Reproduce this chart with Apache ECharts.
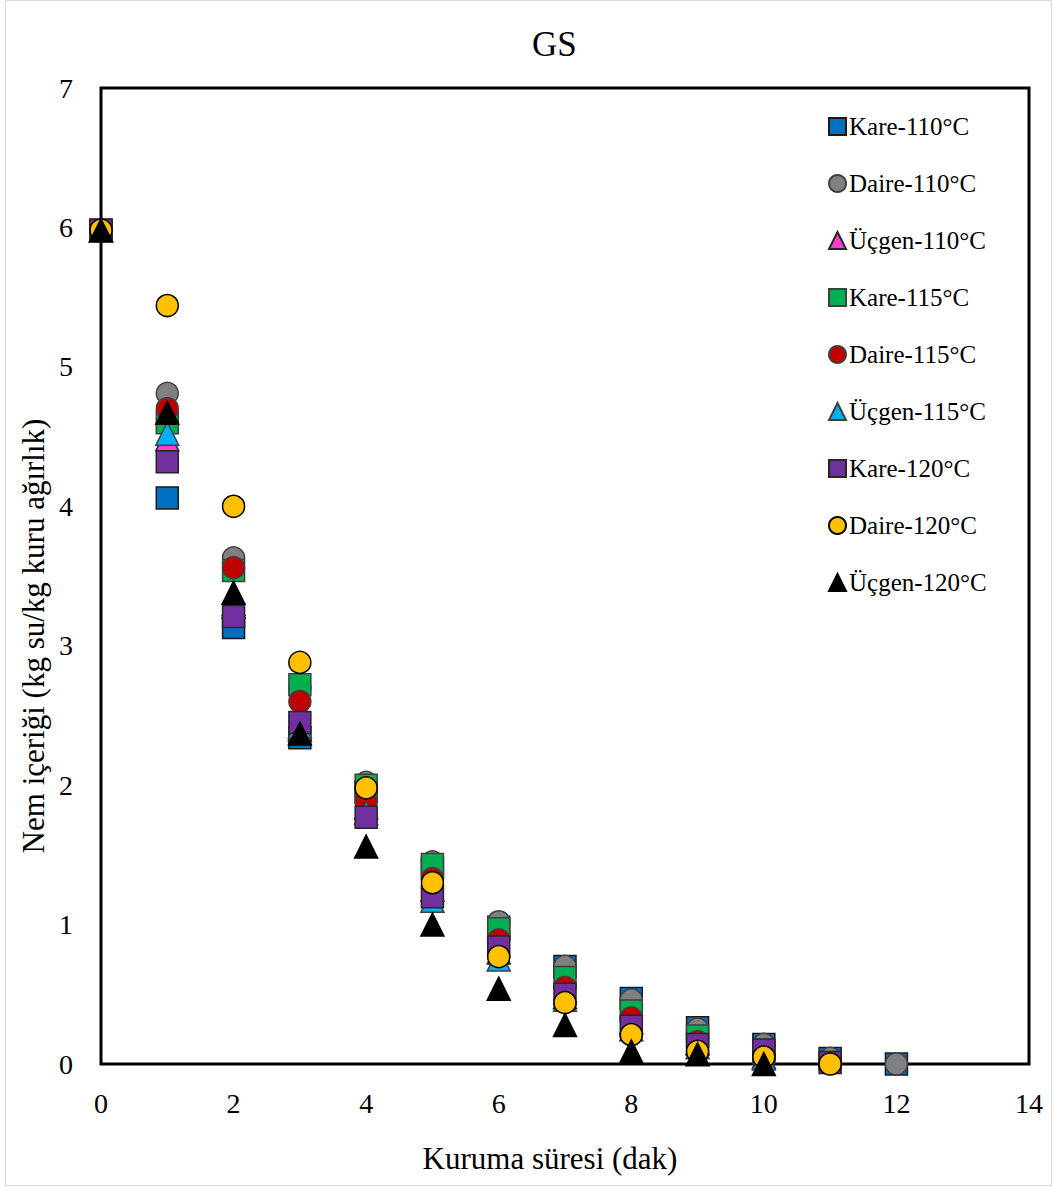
<!DOCTYPE html>
<html>
<head>
<meta charset="utf-8">
<title>GS</title>
<script src="https://cdn.jsdelivr.net/npm/echarts@6/dist/echarts.min.js"></script>
<style>
  html, body { margin: 0; padding: 0; background: #ffffff; }
  #chart { width: 1053px; height: 1187px; }
</style>
</head>
<body>
<div id="chart"></div>
<script>
// Drying time (minutes)
const times = [0, 1, 2, 3, 4, 5, 6, 7, 8, 9, 10, 11, 12];

// Moisture content (kg water / kg dry matter) per shape and temperature
const kare110   = [5.98, 4.06, 3.13, 2.34, 1.95, 1.40, 0.98, 0.70, 0.47, 0.26, 0.14, 0.04, 0.00];
const daire110  = [5.98, 4.81, 3.63, 2.70, 2.02, 1.45, 1.02, 0.70, 0.46, 0.25, 0.14, 0.04, 0.00];
const ucgen110  = [5.98, 4.48, 3.28, 2.40, 1.84, 1.25, 0.80, 0.48, 0.30, 0.15, 0.05];
const kare115   = [5.98, 4.60, 3.54, 2.72, 2.00, 1.43, 0.97, 0.62, 0.38, 0.20, 0.08];
const daire115  = [5.98, 4.70, 3.56, 2.60, 1.88, 1.33, 0.89, 0.55, 0.33, 0.16, 0.06];
const ucgen115  = [5.98, 4.52, 3.30, 2.42, 1.80, 1.17, 0.75, 0.46, 0.25, 0.12, 0.04];
const kare120   = [5.98, 4.32, 3.21, 2.45, 1.77, 1.20, 0.84, 0.50, 0.27, 0.14, 0.10, 0.01];
const daire120  = [5.98, 5.44, 4.00, 2.88, 1.98, 1.30, 0.77, 0.44, 0.21, 0.09, 0.05, 0.00];
const ucgen120  = [5.98, 4.67, 3.38, 2.37, 1.56, 1.00, 0.54, 0.28, 0.09, 0.07, 0.00];

const seriesNames = [
  'Kare-110°C', 'Daire-110°C', 'Üçgen-110°C',
  'Kare-115°C', 'Daire-115°C', 'Üçgen-115°C',
  'Kare-120°C', 'Daire-120°C', 'Üçgen-120°C'
];
const seriesValues = [kare110, daire110, ucgen110, kare115, daire115, ucgen115, kare120, daire120, ucgen120];

// marker look per series
const looks = [
  { symbol: 'rect',     size: 22, color: '#0070C0', border: '#1a1a1a' },
  { symbol: 'circle',   size: 22, color: '#808080', border: '#404040' },
  { symbol: 'triangle', size: 23, color: '#FF3FCB', border: '#262626' },
  { symbol: 'rect',     size: 22, color: '#00B050', border: '#404040' },
  { symbol: 'circle',   size: 22, color: '#C00000', border: '#404040' },
  { symbol: 'triangle', size: 23, color: '#00B0F0', border: '#404040' },
  { symbol: 'rect',     size: 22, color: '#7030A0', border: '#262626' },
  { symbol: 'circle',   size: 22, color: '#FFC000', border: '#000000' },
  { symbol: 'triangle', size: 23, color: '#000000', border: '#000000' }
];

const FONT = 'Liberation Serif';

const series = seriesNames.map((name, i) => ({
  name: name,
  type: 'scatter',
  symbol: looks[i].symbol,
  symbolSize: looks[i].size,
  itemStyle: { color: looks[i].color, borderColor: looks[i].border, borderWidth: 1.5, opacity: 1 },
  emphasis: { disabled: true },
  data: seriesValues[i].map((v, k) => [times[k], v])
}));

const chart = echarts.init(document.getElementById('chart'), null, { renderer: 'svg' });
chart.setOption({
  animation: false,
  backgroundColor: '#ffffff',
  title: {
    text: 'GS',
    left: 527,
    top: 22,
    textStyle: { fontFamily: FONT, fontSize: 35, fontWeight: 'normal', color: '#000' }
  },
  legend: {
    orient: 'vertical',
    left: 823,
    top: 109,
    itemWidth: 17,
    itemHeight: 17,
    itemGap: 32,
    textStyle: { fontFamily: FONT, fontSize: 25, color: '#000', lineHeight: 25, padding: [0, 0, 0, -2] },
    data: seriesNames.map((n, i) => ({ name: n, icon: looks[i].symbol }))
  },
  grid: {
    left: 101, top: 88, right: 24, bottom: 123,
    show: true, borderColor: '#000', borderWidth: 3, backgroundColor: 'transparent'
  },
  xAxis: {
    type: 'value',
    min: 0, max: 14, interval: 2,
    name: 'Kuruma süresi (dak)',
    nameLocation: 'middle',
    nameGap: 79,
    nameTextStyle: { fontFamily: FONT, fontSize: 31, color: '#000', padding: [0, 30, 0, 0] },
    axisLine: { show: false },
    axisTick: { show: false },
    splitLine: { show: false },
    axisLabel: { fontFamily: FONT, fontSize: 28, color: '#000', margin: 25 }
  },
  yAxis: {
    type: 'value',
    min: 0, max: 7, interval: 1,
    axisLine: { show: false },
    axisTick: { show: false },
    splitLine: { show: false },
    axisLabel: { fontFamily: FONT, fontSize: 28, color: '#000', margin: 28 }
  },
  graphic: [
    {
      type: 'rect',
      silent: true,
      shape: { x: 5.5, y: 0.5, width: 1046, height: 1185 },
      style: { fill: 'none', stroke: '#d9d9d9', lineWidth: 1 }
    },
    {
      type: 'text',
      silent: true,
      x: 33, y: 636,
      rotation: Math.PI / 2,
      style: {
        text: 'Nem içeriği (kg su/kg kuru ağırlık)',
        font: '31px Liberation Serif',
        fill: '#000',
        align: 'center',
        verticalAlign: 'middle'
      }
    }
  ],
  series: series
});
</script>
</body>
</html>
